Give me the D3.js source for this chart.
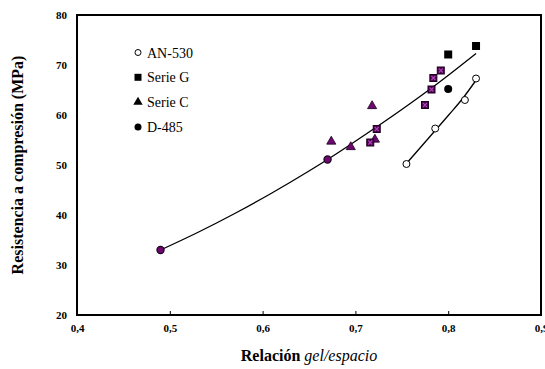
<!DOCTYPE html>
<html><head><meta charset="utf-8">
<script src="https://cdn.jsdelivr.net/npm/d3@7"></script>
<style>body{margin:0;background:#fff}svg{display:block}text{font-family:"Liberation Serif","Times New Roman",serif}</style>
</head><body><svg id="c" width="545" height="369"></svg>
<script>
// ---- data ----
const xTicks = [0.4,0.5,0.6,0.7,0.8,0.9];
const yTicks = [20,30,40,50,60,70,80];
const an530X = [0.755,0.786,0.818,0.830];
const an530Y = [50.2,57.3,63.0,67.3];
const serieGX = [0.800,0.830];
const serieGY = [72.1,73.8];
const serieGPurpleX = [0.716,0.723,0.775,0.782,0.784,0.792];
const serieGPurpleY = [54.5,57.2,62.0,65.1,67.4,68.9];
const serieCX = [0.674,0.695,0.718,0.721];
const serieCY = [54.7,53.6,61.8,55.1];
const d485X = [0.800];
const d485Y = [65.2];
const d485PurpleX = [0.490,0.670];
const d485PurpleY = [33.0,51.1];
const fitMainX = [0.490,0.530,0.570,0.610,0.650,0.670,0.710,0.750,0.790,0.830];
const fitMainY = [33.0,36.5,40.3,44.4,48.8,51.1,56.0,61.1,66.5,72.3];
const fitAnX = [0.755,0.771,0.786,0.801,0.816,0.829];
const fitAnY = [50.3,53.7,56.9,60.1,63.4,66.7];
const legendLabels = ["AN-530","Serie G","Serie C","D-485"];

const svg = d3.select("#c");
const x = d3.scaleLinear().domain([0.4,0.9]).range([77,541]);
const y = d3.scaleLinear().domain([20,80]).range([315,15]);
const fmt = d => d3.format(".1f")(d).replace(".", ",");

// axes
const xa = svg.append("g").attr("transform","translate(0,315)")
  .call(d3.axisBottom(x).tickValues(xTicks).tickSize(-4).tickPadding(9).tickFormat(fmt));
const ya = svg.append("g").attr("transform","translate(77,0)")
  .call(d3.axisLeft(y).tickValues(yTicks).tickSize(0).tickPadding(10).tickFormat(d3.format("d")));
[xa,ya].forEach(a=>{
  a.select(".domain").remove();
  a.selectAll("line").attr("stroke","#000").attr("stroke-width",1);
  a.selectAll("text").attr("font-size",11).attr("font-weight","bold").attr("fill","#000")
    .style("font-family","'Liberation Serif','Times New Roman',serif");
});
xa.selectAll(".tick").filter(d=>d===0.4||d===0.9).select("line").remove();
// frame
svg.append("rect").attr("x",x(0.4)).attr("y",y(80)).attr("width",x(0.9)-x(0.4)).attr("height",y(20)-y(80))
  .attr("fill","none").attr("stroke","#000").attr("stroke-width",2);

// titles
svg.append("text").attr("transform",`translate(23,${(y(20)+y(80))/2}) rotate(-90)`)
  .attr("text-anchor","middle").attr("font-size",16).attr("font-weight","bold").text("Resistencia a compresión (MPa)");
const xt = svg.append("text").attr("x",(x(0.4)+x(0.9))/2).attr("y",361).attr("text-anchor","middle").attr("font-size",16);
xt.append("tspan").attr("font-weight","bold").text("Relación ");
xt.append("tspan").attr("font-style","italic").text("gel/espacio");

// fit curves
const line = d3.line().x(d=>x(d[0])).y(d=>y(d[1])).curve(d3.curveMonotoneX);
svg.append("path").datum(d3.zip(fitMainX,fitMainY)).attr("d",line).attr("fill","none").attr("stroke","#000").attr("stroke-width",1.3);
svg.append("path").datum(d3.zip(fitAnX,fitAnY)).attr("d",line).attr("fill","none").attr("stroke","#000").attr("stroke-width",1.3);

const purple = "#6e0870", sqFill = "#4a0050", dark = "#1a001a", light = "#b040b8";
const tri = d3.symbol().type(d3.symbolTriangle).size(36);

// Serie C triangles (purple)
svg.append("g").selectAll("path").data(d3.zip(serieCX,serieCY)).join("path")
  .attr("transform",d=>`translate(${x(d[0])},${y(d[1])})`).attr("d",tri())
  .attr("fill",purple).attr("stroke",dark).attr("stroke-width",0.8);
// purple squares
const gp = svg.append("g").selectAll("g").data(d3.zip(serieGPurpleX,serieGPurpleY)).join("g")
  .attr("transform",d=>`translate(${x(d[0])},${y(d[1])})`);
gp.append("rect").attr("x",-3.5).attr("y",-3.5).attr("width",7).attr("height",7)
  .attr("fill",sqFill).attr("stroke",dark).attr("stroke-width",1);
gp.append("path").attr("d","M-2,-2L2,2M-2,2L2,-2").attr("stroke",light).attr("stroke-width",1.1);
// black squares
svg.append("g").selectAll("rect").data(d3.zip(serieGX,serieGY)).join("rect")
  .attr("x",d=>x(d[0])-4).attr("y",d=>y(d[1])-4).attr("width",8).attr("height",8).attr("fill","#000");
// D-485
svg.append("g").selectAll("circle").data(d3.zip(d485X,d485Y)).join("circle")
  .attr("cx",d=>x(d[0])).attr("cy",d=>y(d[1])).attr("r",4).attr("fill","#000");
svg.append("g").selectAll("circle").data(d3.zip(d485PurpleX,d485PurpleY)).join("circle")
  .attr("cx",d=>x(d[0])).attr("cy",d=>y(d[1])).attr("r",3.6).attr("fill",purple).attr("stroke",dark).attr("stroke-width",1.2);
// AN-530 open circles
svg.append("g").selectAll("circle").data(d3.zip(an530X,an530Y)).join("circle")
  .attr("cx",d=>x(d[0])).attr("cy",d=>y(d[1])).attr("r",3.5).attr("fill","#fff").attr("stroke","#000").attr("stroke-width",1);

// legend
const lg = svg.append("g");
legendLabels.forEach((t,i)=>{
  const cy = 52.5 + i*24.8, cx = 138;
  if(i===0) lg.append("circle").attr("cx",cx).attr("cy",cy).attr("r",3).attr("fill","#fff").attr("stroke","#000");
  if(i===1) lg.append("rect").attr("x",cx-3.5).attr("y",cy-3.5).attr("width",7).attr("height",7).attr("fill","#000");
  if(i===2) lg.append("path").attr("transform",`translate(${cx},${cy})`).attr("d",d3.symbol().type(d3.symbolTriangle).size(38)()).attr("fill","#000");
  if(i===3) lg.append("circle").attr("cx",cx).attr("cy",cy).attr("r",3.5).attr("fill","#000");
  lg.append("text").attr("x",147).attr("y",cy+5).attr("font-size",14).text(t);
});
</script></body></html>
